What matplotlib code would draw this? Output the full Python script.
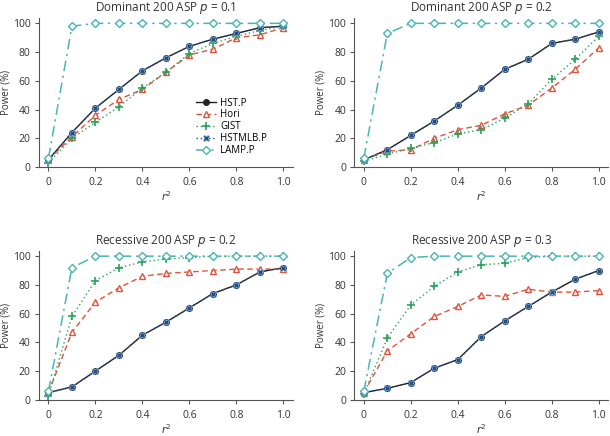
import matplotlib
matplotlib.use("Agg")
import matplotlib.pyplot as plt

r2 = [0, 0.1, 0.2, 0.3, 0.4, 0.5, 0.6, 0.7, 0.8, 0.9, 1.0]

titles = ["Dominant 200 ASP $p$ = 0.1", "Dominant 200 ASP $p$ = 0.2",
          "Recessive 200 ASP $p$ = 0.2", "Recessive 200 ASP $p$ = 0.3"]

# power (%) per panel
hst = [
    [5, 24, 41, 54, 67, 76, 84, 89, 93, 97, 98],
    [5, 12, 22, 32, 43, 55, 68, 75, 86, 89, 94],
    [5, 9, 20, 31, 45, 54, 64, 74, 80, 89, 92],
    [5, 8, 12, 22, 28, 44, 55, 65, 75, 84, 90],
]
hori = [
    [5, 21, 36, 47, 54, 66, 78, 82, 90, 92, 97],
    [5, 11, 12, 20, 26, 29, 37, 43, 55, 68, 83],
    [5, 47, 68, 78, 86, 88, 89, 90, 91, 91, 91],
    [5, 34, 46, 58, 65, 73, 72, 77, 75, 75, 76],
]
gist = [
    [3, 20, 31, 42, 55, 66, 79, 86, 91, 95, 98],
    [4, 9, 13, 17, 23, 26, 34, 44, 61, 75, 91],
    [3, 58, 83, 92, 96, 98, 99, 100, 100, 100, 100],
    [4, 43, 66, 79, 89, 94, 95, 99, 100, 100, 100],
]
hstmlb = [
    [5, 24, 41, 54, 67, 76, 84, 89, 93, 97, 98],
    [5, 12, 22, 32, 43, 55, 68, 75, 86, 89, 94],
    [5, 9, 20, 31, 45, 54, 64, 74, 80, 89, 92],
    [5, 8, 12, 22, 28, 44, 55, 65, 75, 84, 90],
]
lamp = [
    [6, 98, 100, 100, 100, 100, 100, 100, 100, 100, 100],
    [6, 93, 100, 100, 100, 100, 100, 100, 100, 100, 100],
    [6, 92, 100, 100, 100, 100, 100, 100, 100, 100, 100],
    [6, 88, 99, 100, 100, 100, 100, 100, 100, 100, 100],
]

plt.rcParams['font.family'] = ['Open Sans', 'DejaVu Sans']
plt.rcParams['font.size'] = 7

fig = plt.figure(figsize=(6.1, 4.36), dpi=100)
positions = [[0.064, 0.617, 0.416, 0.341], [0.581, 0.617, 0.416, 0.341],
             [0.064, 0.083, 0.416, 0.341], [0.581, 0.083, 0.416, 0.341]]

gray = '#555555'
for i in range(4):
    ax = fig.add_axes(positions[i])
    ax.plot(r2, hst[i], color='#222222', lw=1, marker='o', ms=4,
            label='HST.P')
    ax.plot(r2, hori[i], color='#e0533a', lw=1, ls=(0, (4, 2.5)), marker='^',
            ms=5, mfc='white', mew=1, label='Hori')
    ax.plot(r2, gist[i], color='#2ca05a', lw=1, ls=(0, (1, 2)), marker='+',
            ms=6, mew=1.2, label='GIST')
    ax.plot(r2, hstmlb[i], color='#1f4e8c', lw=1, ls=(0, (1, 2)), marker='X',
            ms=5, mec='#8fb3d9', mew=0.6, label='HSTMLB.P')
    ax.plot(r2, lamp[i], color='#4ab5b5', lw=1.1, ls=(0, (7, 3, 1.5, 3)),
            marker='D', ms=4, mfc='white', mew=1, label='LAMP.P')

    ax.set_xlim(-0.04, 1.04)
    ax.set_ylim(0, 103.5)
    ax.set_xticks([0, 0.2, 0.4, 0.6, 0.8, 1.0])
    ax.set_xticklabels(['0', '0.2', '0.4', '0.6', '0.8', '1.0'])
    ax.set_yticks([0, 20, 40, 60, 80, 100])
    for s in ['top', 'right']:
        ax.spines[s].set_visible(False)
    for s in ['left', 'bottom']:
        ax.spines[s].set_color(gray)
        ax.spines[s].set_linewidth(0.8)
    ax.tick_params(colors=gray, labelcolor='#333333', length=3, width=0.8,
                   labelsize=7.5)
    ax.tick_params(axis='y', pad=3)
    ax.tick_params(axis='x', pad=4)
    ax.set_xlabel('$r^2$', color='#333333', labelpad=2, fontsize=7.5)
    ax.set_ylabel('Power (%)', color='#333333', labelpad=1, fontsize=7)
    ax.set_title(titles[i], fontsize=8.5, color='#333333', pad=5)
    for ln in ax.lines:
        ln.set_clip_on(False)

    if i == 0:
        ax.legend(loc='upper left', bbox_to_anchor=(0.6, 0.5), frameon=False,
                  fontsize=7, handlelength=2, labelspacing=0.1,
                  handletextpad=0.5, borderpad=0)

fig.savefig('out.png', dpi=100)
